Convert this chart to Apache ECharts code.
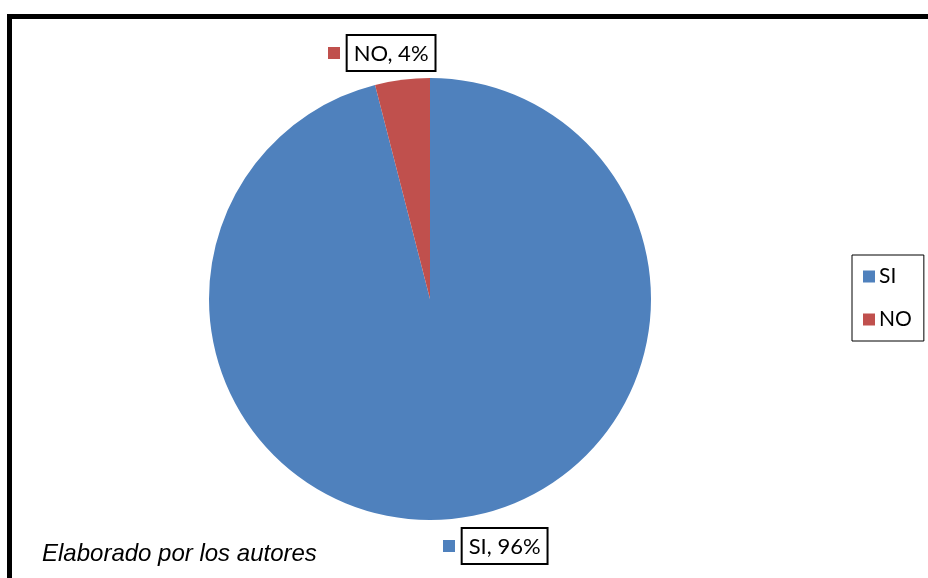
<!DOCTYPE html>
<html>
<head>
<meta charset="utf-8">
<script src="https://cdn.jsdelivr.net/npm/echarts@6/dist/echarts.min.js"></script>
<style>
  html, body { margin: 0; padding: 0; background: #fff; }
  #chart { width: 928px; height: 578px; }
</style>
</head>
<body>
<div id="chart"></div>
<script>
const categories = ['SI', 'NO']
const percents = [96, 4]
const colorList = ['#4F81BD', '#C0504D']
const note = 'Elaborado por los autores'

const chart = echarts.init(document.getElementById('chart'))

const pieData = categories.map((name, i) => ({
  name: name,
  value: percents[i],
  itemStyle: { color: colorList[i] },
  label: {
    rich: {
      m: { backgroundColor: colorList[i], width: 12, height: 12 },
    },
  },
}))

const options = {
  backgroundColor: '#fff',
  animation: false,
  title: {
    text: note,
    left: 37,
    top: 537,
    textStyle: {
      fontFamily: 'Liberation Sans',
      fontStyle: 'italic',
      fontWeight: 'normal',
      fontSize: 24,
      color: '#000',
    },
  },
  legend: {
    orient: 'vertical',
    left: 852,
    top: 255,
    data: categories,
    icon: 'rect',
    itemWidth: 12,
    itemHeight: 12,
    itemGap: 22,
    padding: [11, 12, 11, 11],
    borderColor: '#000',
    borderWidth: 1,
    selectedMode: false,
    textStyle: {
      fontFamily: 'Lato',
      fontSize: 21,
      color: '#000',
      padding: [0, 0, 0, -1],
    },
  },
  graphic: [
    {
      type: 'rect',
      shape: { x: 9.5, y: 16.5, width: 1000, height: 1000 },
      style: { fill: 'none', stroke: '#000', lineWidth: 5 },
      silent: true,
    },
  ],
  series: [
    {
      type: 'pie',
      center: [430, 299],
      radius: 221,
      startAngle: 90,
      clockwise: true,
      data: pieData,
      label: {
        show: true,
        position: 'outside',
        formatter: p => '{m|}  {b|' + p.name + ', ' + p.value + '%}',
        rich: {
          b: {
            fontFamily: 'Lato',
            fontSize: 22,
            color: '#000',
            borderColor: '#000',
            borderWidth: 2,
            padding: [8, 7, 6, 7],
          },
        },
      },
      labelLine: { show: false, length: 10, length2: 0 },
      labelLayout: function (params) {
        if (params.dataIndex === 1) {
          return { x: 328, y: 53, align: 'left', verticalAlign: 'middle' }
        }
        return { x: 443, y: 546, align: 'left', verticalAlign: 'middle' }
      },
      emphasis: { disabled: true },
    },
  ],
}

chart.setOption(options)
</script>
</body>
</html>
